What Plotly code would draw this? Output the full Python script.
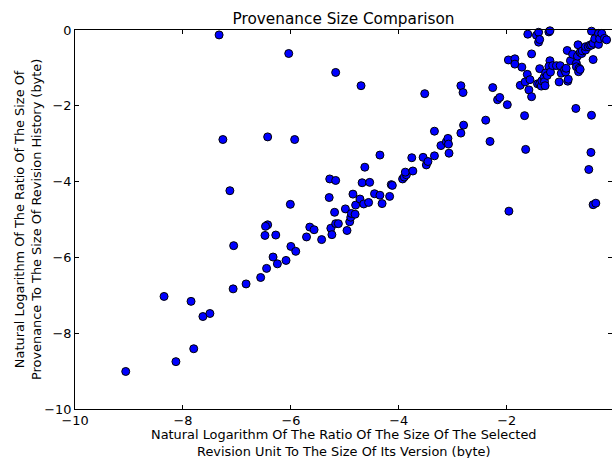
import plotly.graph_objects as go

# Data (natural log ratios)
x_vals = [
    -9.06, -8.35, -8.13, -7.85, -7.80, -7.63, -7.50, -7.33, -7.26, -7.13,
    -7.06, -7.07, -6.83, -6.56, -6.45, -6.33, -6.25, -6.09, -6.00, -5.91,
    -6.43, -6.47, -6.48, -6.28, -6.01, -6.04, -6.43, -5.93, -5.17, -4.70,
    -5.65, -5.57, -5.71, -5.43, -5.28, -5.17, -5.29, -5.26, -5.24, -5.19,
    -5.17, -5.12, -4.99, -4.96, -4.91, -4.89, -4.88, -4.81, -4.85, -4.80,
    -4.72, -4.68, -4.65, -4.63, -4.56, -4.54, -4.45, -4.35, -4.35, -4.31,
    -4.17, -4.14, -4.12, -3.93, -3.90, -3.86, -3.88, -3.76, -3.74, -3.55,
    -3.52, -3.49, -3.46, -3.34, -3.34, -3.22, -3.12, -3.09, -3.08, -3.07,
    -2.85, -2.85, -2.81, -2.80, -2.39, -2.31, -2.26, -2.17, -2.13, -1.99,
    -1.96, -1.97, -1.85, -1.85, -1.75, -1.72, -1.67, -1.66, -1.65, -1.62,
    -1.61, -1.59, -1.57, -1.54, -1.54, -1.45, -1.43, -1.41, -1.41, -1.39,
    -1.39, -1.39, -1.36, -1.35, -1.31, -1.30, -1.29, -1.28, -1.25, -1.22,
    -1.20, -1.20, -1.22, -1.19, -1.15, -1.08, -1.03, -1.01, -0.99, -0.93,
    -0.91, -0.90, -0.88, -0.87, -0.86, -0.82, -0.78, -0.72, -0.71, -0.71,
    -0.69, -0.68, -0.67, -0.66, -0.64, -0.64, -0.61, -0.60, -0.54, -0.54,
    -0.49, -0.48, -0.46, -0.44, -0.43, -0.43, -0.43, -0.40, -0.40, -0.40,
    -0.37, -0.35, -0.30, -0.30, -0.28, -0.24, -0.19, -0.15,
]
y_vals = [
    -9.01, -7.03, -8.75, -7.16, -8.41, -7.56, -7.48, -0.13, -2.89, -4.24,
    -5.69, -6.83, -6.70, -6.53, -6.29, -5.99, -6.17, -6.08, -5.71, -5.84,
    -5.14, -5.18, -5.42, -5.41, -4.60, -0.62, -2.82, -2.89, -1.12, -1.47,
    -5.20, -5.27, -5.46, -5.53, -3.93, -3.97, -4.42, -5.23, -5.40, -4.81,
    -5.11, -5.11, -4.72, -5.29, -5.06, -4.94, -4.84, -4.86, -4.33, -4.62,
    -4.46, -4.03, -4.59, -3.62, -4.55, -4.02, -4.32, -4.36, -3.30, -4.58,
    -4.39, -4.08, -4.10, -3.93, -3.88, -3.82, -3.75, -3.37, -3.72, -3.36,
    -1.68, -3.56, -3.47, -3.32, -2.67, -3.05, -2.95, -2.86, -3.01, -3.25,
    -2.72, -1.47, -1.65, -2.51, -2.38, -2.94, -1.52, -1.84, -1.78, -1.97,
    -4.78, -0.79, -0.76, -0.90, -1.46, -0.98, -2.26, -1.37, -3.15, -1.17,
    -0.11, -1.58, -1.31, -0.63, -1.76, -0.14, -1.42, -0.32, -0.06, -0.25,
    -1.02, -1.42, -1.48, -1.34, -1.25, -1.36, -1.47, -1.13, -1.20, -0.05,
    -0.02, -0.81, -0.96, -1.11, -0.94, -0.94, -1.37, -0.94, -1.14, -1.05,
    -1.11, -1.01, -0.54, -1.35, -1.30, -0.81, -0.64, -2.07, -0.88, -0.97,
    -0.69, -0.39, -1.10, -1.01, -1.04, -0.59, -0.62, -0.55, -0.53, -0.44,
    -0.44, -3.68, -0.40, -3.23, -2.25, -0.40, -0.03, -0.78, -0.35, -4.61,
    -0.23, -4.57, -0.09, -0.38, -0.23, -0.09, -0.22, -0.26,
]

tick_vals = [-10, -8, -6, -4, -2, 0]
tick_text = ["\u221210", "\u22128", "\u22126", "\u22124", "\u22122", "0"]

title_text = "Provenance Size Comparison"
x_title = ("Natural Logarithm Of The Ratio Of The Size Of The Selected<br>"
           "Revision Unit To The Size Of Its Version (byte)")
y_title = ("Natural Logarithm Of The Ratio Of The Size Of<br>"
           "Provenance To The Size Of Revision History (byte)")

FONT = "DejaVu Sans"
FS = 12.9

fig = go.Figure()
fig.add_trace(go.Scatter(
    x=x_vals, y=y_vals, mode="markers",
    marker=dict(size=8, color="#0000ff", line=dict(color="black", width=1)),
    showlegend=False, cliponaxis=False,
))
# helper trace so the right-hand tick marks are drawn
fig.add_trace(go.Scatter(x=[None], y=[None], yaxis="y2", showlegend=False,
                         hoverinfo="skip"))

W, H = 612, 458
L, R, T, B = 75, 0, 30, 49

fig.update_layout(
    width=W, height=H,
    margin=dict(l=L, r=R, t=T, b=B, pad=0),
    paper_bgcolor="white", plot_bgcolor="white",
    font=dict(family=FONT, size=FS, color="black"),
    title=dict(text=title_text, x=0.5, xref="paper", y=1 - 19 / H,
               yref="container", xanchor="center", yanchor="middle",
               font=dict(family=FONT, size=15.3, color="black")),
    xaxis=dict(range=[-10, -0.05], tickvals=tick_vals, ticktext=tick_text,
               showgrid=False, zeroline=False, showline=True, linecolor="black",
               linewidth=1, mirror="ticks", ticks="inside", ticklen=4,
               tickcolor="black", tickfont=dict(family=FONT, size=FS)),
    yaxis=dict(range=[-10, 0], tickvals=tick_vals, ticktext=tick_text,
               showgrid=False, zeroline=False, showline=True, linecolor="black",
               linewidth=1, ticks="inside", ticklen=4, tickcolor="black",
               tickfont=dict(family=FONT, size=FS)),
    yaxis2=dict(range=[-10, 0], overlaying="y", side="right", matches="y",
                tickvals=tick_vals, showticklabels=False, showgrid=False,
                zeroline=False, showline=False, ticks="inside", ticklen=4,
                tickcolor="black"),
    annotations=[
        dict(text=x_title, xref="paper", yref="paper", x=0.5,
             y=-(442.5 - 409) / (409 - 30), xanchor="center", yanchor="middle",
             showarrow=False, align="center",
             font=dict(family=FONT, size=FS, color="black")),
        dict(text=y_title, xref="paper", yref="paper",
             x=(27.5 - L) / (W - L - R), y=0.5, xanchor="center",
             yanchor="middle", textangle=-90, showarrow=False, align="center",
             font=dict(family=FONT, size=FS, color="black")),
    ],
)

fig.write_html("out.html")
